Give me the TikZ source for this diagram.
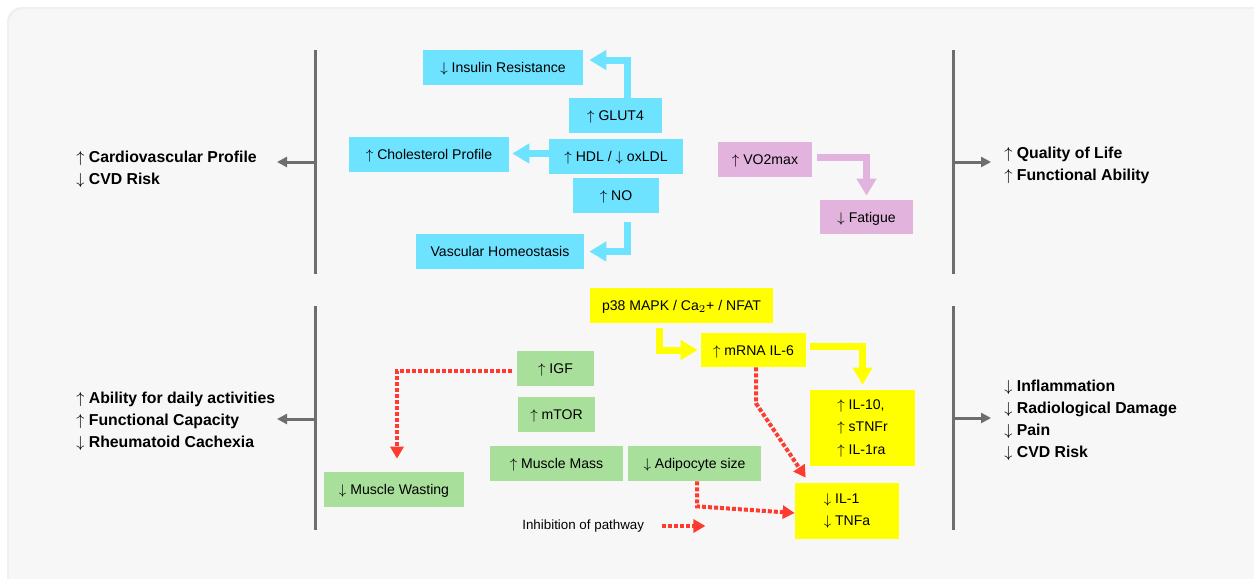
\documentclass[tikz,border=0pt]{standalone}
\usepackage{fontspec}
\setmainfont{Liberation Sans}
\usetikzlibrary{arrows.meta}

\definecolor{PanelGray}{RGB}{247,247,247}
\definecolor{BarGray}{RGB}{110,110,110}
\definecolor{CyanBox}{RGB}{109,227,255}
\definecolor{PinkBox}{RGB}{226,180,221}
\definecolor{YellowBox}{RGB}{255,255,0}
\definecolor{GreenBox}{RGB}{168,223,155}
\definecolor{RedArrow}{RGB}{255,59,48}

\tikzset{
  box/.style={minimum height=0.7cm, inner sep=0pt, font=\fontsize{8}{12.8}\selectfont},
  flat/.style={text height=7pt, text depth=1.3pt},
  cyanbox/.style={box, flat, fill=CyanBox},
  pinkbox/.style={box, flat, fill=PinkBox},
  yellowbox/.style={box, fill=YellowBox},
  greenbox/.style={box, flat, fill=GreenBox},
  outcome/.style={inner sep=0pt, anchor=west, align=left, font=\bfseries\fontsize{9}{12.6}\selectfont},
  bar/.style={BarGray, line width=0.06cm},
  bararrow/.style={BarGray, line width=0.06cm, -{Triangle[length=0.2cm,width=0.2cm]}},
  fatarrow/.style={line width=0.14cm, -{Triangle[length=0.34cm,width=0.38cm]}},
  inhibit/.style={RedArrow, line width=0.08cm, dash pattern=on 0.08cm off 0.04cm,
    -{Triangle[length=0.24cm,width=0.26cm]}}
}

\begin{document}
\begin{tikzpicture}[x=0.02cm, y=-0.02cm]

\useasboundingbox (0,0) rectangle (1254,578);
\fill[white] (0,0) rectangle (1254,578);
\fill[black!6, rounded corners=0.3cm] (7,7) rectangle (1270,600);
\fill[PanelGray, rounded corners=0.3cm] (9,9) rectangle (1270,600);

% Brackets
\draw[bar] (315,50) -- (315,274);
\draw[bar] (953,50) -- (953,274);
\draw[bar] (315,306) -- (315,530);
\draw[bar] (953,306) -- (953,530);

\coordinate (tlbar) at (315,162);
\coordinate (tltip) at (277,162);
\coordinate (trbar) at (953,162);
\coordinate (trtip) at (991,162);
\coordinate (blbar) at (315,419);
\coordinate (bltip) at (277,419);
\coordinate (brbar) at (953,418);
\coordinate (brtip) at (991,418);

\draw[bararrow] (tlbar) -- (tltip);
\draw[bararrow] (trbar) -- (trtip);
\draw[bararrow] (blbar) -- (bltip);
\draw[bararrow] (brbar) -- (brtip);

% Outcomes
\node[outcome] (cardio) at (76,169) {$\uparrow$ Cardiovascular Profile\\$\downarrow$ CVD Risk};
\node[outcome] (quality) at (1004,165) {$\uparrow$ Quality of Life\\$\uparrow$ Functional Ability};
\node[outcome] (ability) at (76,421) {$\uparrow$ Ability for daily activities\\$\uparrow$ Functional Capacity\\$\downarrow$ Rheumatoid Cachexia};
\node[outcome] (inflam) at (1004,420.5) {$\downarrow$ Inflammation\\$\downarrow$ Radiological Damage\\$\downarrow$ Pain\\$\downarrow$ CVD Risk};

% Cardiovascular boxes
\node[cyanbox, minimum width=3.2cm] (insulin) at (503,67.5) {$\downarrow$ Insulin Resistance};
\node[cyanbox, minimum width=1.86cm] (glut) at (615.5,115.5) {$\uparrow$ GLUT4};
\node[cyanbox, minimum width=3.2cm] (chol) at (429,154.5) {$\uparrow$ Cholesterol Profile};
\node[cyanbox, minimum width=2.68cm] (hdl) at (616,156.5) {$\uparrow$ HDL / $\downarrow$ oxLDL};
\node[cyanbox, minimum width=1.72cm] (no) at (616,195.5) {$\uparrow$ NO};
\node[cyanbox, minimum width=3.36cm] (vasc) at (500,251.5) {Vascular Homeostasis};

\draw[fatarrow, CyanBox] ([xshift=0.23cm]glut.north) |- ([xshift=0.12cm,yshift=0.15cm]insulin.east);
\draw[fatarrow, CyanBox, shorten >=0.06cm] ([yshift=0.06cm]hdl.west) -- ([yshift=0.06cm]hdl.west -| chol.east);
\draw[fatarrow, CyanBox, shorten <=0.18cm] ([xshift=0.22cm]no.south) |- ([xshift=0.1cm]vasc.east);

% Fitness boxes
\node[pinkbox, minimum width=1.88cm] (vo2) at (765,159.5) {$\uparrow$ VO2max};
\node[pinkbox, minimum width=1.86cm, minimum height=0.68cm] (fatigue) at (866.5,217) {$\downarrow$ Fatigue};

\draw[fatarrow, PinkBox, shorten <=0.1cm, shorten >=0.08cm] ([yshift=0.05cm]vo2.east) -| (fatigue.north);

% Inflammation boxes
\node[yellowbox, flat, minimum width=3.66cm] (p38) at (681.5,305.5) {p38 MAPK / Ca$_2$+ / NFAT};
\node[yellowbox, flat, minimum width=2.1cm, minimum height=0.68cm] (il6) at (753.5,350) {$\uparrow$ mRNA IL-6};
\node[yellowbox, minimum width=2.1cm, minimum height=1.52cm, align=left] (il10) at (862.5,428) {$\uparrow$ IL-10,\\$\uparrow$ sTNFr\\$\uparrow$ IL-1ra};
\node[yellowbox, minimum width=2.08cm, minimum height=1.12cm, align=left] (il1) at (847,511) {$\downarrow$ IL-1\\$\downarrow$ TNFa};

\draw[fatarrow, YellowBox, shorten <=0.1cm, shorten >=0.06cm] ([xshift=-0.45cm]p38.south) |- (il6.west);
\draw[fatarrow, YellowBox, shorten <=0.08cm, shorten >=0.1cm] ([yshift=0.08cm]il6.east) -| (il10.north);

% Muscle boxes
\node[greenbox, minimum width=1.54cm] (igf) at (555.5,368.5) {$\uparrow$ IGF};
\node[greenbox, minimum width=1.54cm] (mtor) at (556.5,414.5) {$\uparrow$ mTOR};
\node[greenbox, minimum width=2.66cm] (mass) at (556.5,463.5) {$\uparrow$ Muscle Mass};
\node[greenbox, minimum width=2.66cm] (adipo) at (694.5,463.5) {$\downarrow$ Adipocyte size};
\node[greenbox, minimum width=2.8cm] (wasting) at (394,489.5) {$\downarrow$ Muscle Wasting};

% Inhibition
\draw[inhibit, shorten <=0.1cm, shorten >=0.26cm] ([yshift=-0.05cm]igf.west) -| ([xshift=0.06cm]wasting.north);
\draw[inhibit] ([xshift=0.05cm]il6.south) -- ++(0,36) -- ([xshift=0.22cm,yshift=0.1cm]il1.north west);
\draw[inhibit] ([xshift=0.05cm]adipo.south) -- ++(0,25) -- ([yshift=-0.04cm]il1.west);

% Legend
\node[inner sep=0pt, anchor=west, font=\fontsize{7.6}{9}\selectfont] (legend) at (522,526) {Inhibition of pathway};
\draw[inhibit] ([xshift=0.36cm]legend.east) -- ++(43,0);

\end{tikzpicture}
\end{document}
